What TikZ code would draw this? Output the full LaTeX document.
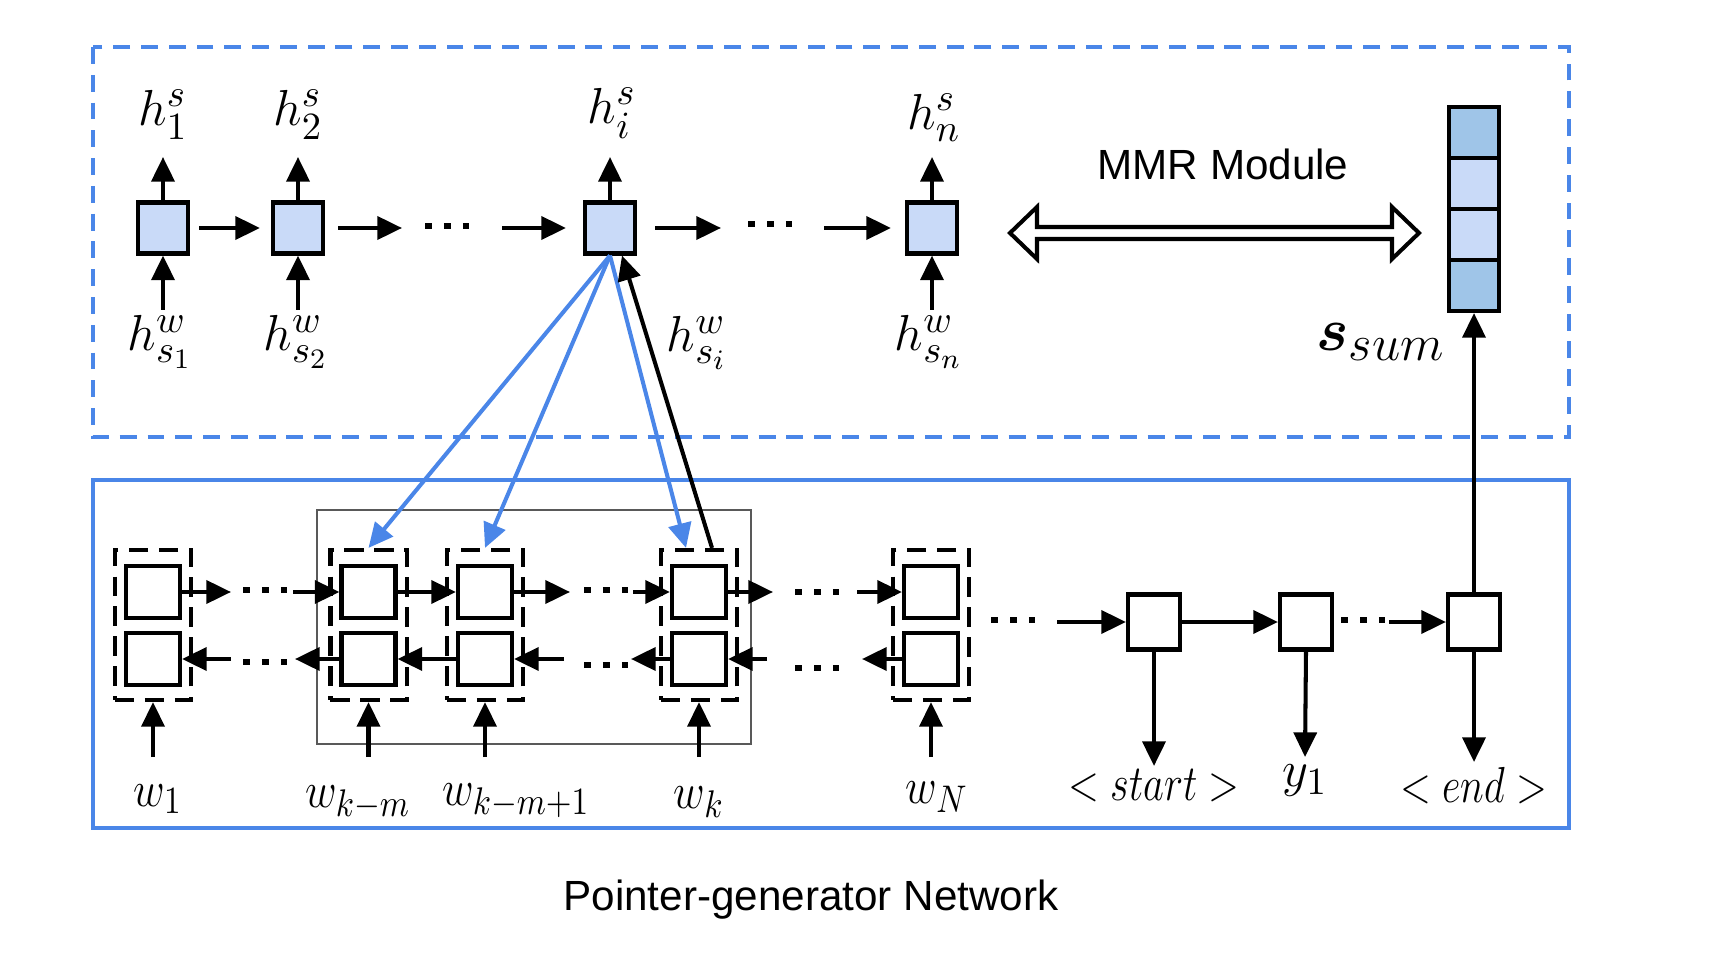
\documentclass[tikz,border=0pt]{standalone}
\usepackage{amsmath}
\usepackage{graphicx}
\usepackage{fontspec}
\newfontfamily\arialf{Liberation Sans}
\usetikzlibrary{arrows.meta,calc}
\definecolor{gblue}{HTML}{4A86E8}
\definecolor{cellblue}{HTML}{C9DAF8}
\definecolor{darkcell}{HTML}{9FC5E8}
\definecolor{framegray}{HTML}{595959}
\newcommand{\narrow}[1]{\scalebox{0.86}[1]{#1}}
\tikzset{
  arr/.style={line width=1.15pt,-{Triangle[length=7pt,width=6.5pt]}},
  barr/.style={gblue,line width=1.15pt,-{Triangle[length=7pt,width=6.5pt]}},
  hcell/.style={draw,line width=1.15pt,fill=cellblue,minimum width=0.5cm,minimum height=0.51cm,inner sep=0},
  stackcell/.style={draw,line width=1.15pt,minimum width=0.5cm,minimum height=0.51cm,inner sep=0},
  encsq/.style={draw,line width=1.15pt,fill=white,minimum width=0.54cm,minimum height=0.52cm,inner sep=0},
  encbox/.style={draw,line width=1.15pt,dash pattern=on 5.5pt off 3pt,minimum width=0.76cm,minimum height=1.5cm,inner sep=0},
  deccell/.style={draw,line width=1.15pt,fill=white,minimum width=0.52cm,minimum height=0.55cm,inner sep=0},
  dotline/.style={line width=1.9pt,dash pattern=on 1.9pt off 3.5pt},
  lbl/.style={inner sep=0,font=\fontsize{15.2}{18}\selectfont},
  sanslbl/.style={inner sep=0,font=\arialf\fontsize{12}{14}\selectfont}
}
\begin{document}
\begin{tikzpicture}[x=0.01cm,y=-0.01cm]
\useasboundingbox (0,0) rectangle (1712,958);
% frames
\draw[gblue,line width=1.2pt,dash pattern=on 4.8pt off 3.1pt] (93,47) rectangle (1569,437);
\draw[gblue,line width=1.2pt] (93,480) rectangle (1569,828);
\draw[framegray,line width=0.75pt] (317,510) rectangle (751,744);

% ---------- top sentence-level row ----------
\node[hcell] (h1) at (163,228) {};
\node[hcell] (h2) at (298,228) {};
\node[hcell] (hi) at (610,228) {};
\node[hcell] (hn) at (932,228) {};
\node[lbl] (ls1) at (163,115) {$h^s_1$};
\node[lbl] (ls2) at (298,115) {$h^s_2$};
\node[lbl] (lsi) at (612,113) {$h^s_i$};
\node[lbl] (lsn) at (934,118) {$h^s_n$};
\node[lbl] (lw1) at (160,342) {$h^w_{s_1}$};
\node[lbl] (lw2) at (296,342) {$h^w_{s_2}$};
\node[lbl] (lwi) at (697,343) {$h^w_{s_i}$};
\node[lbl] (lwn) at (929,342) {$h^w_{s_n}$};
\foreach \n/\x in {h1/163,h2/298,hi/610,hn/932}{
  \coordinate (up\n) at (\x,157);
  \draw[arr] (\n.north) -- (up\n);
}
\foreach \n/\x in {h1/163,h2/298,hn/932}{
  \coordinate (dn\n) at (\x,310);
  \draw[arr] (dn\n) -- (\n.south);
}
\draw[arr,shorten <=0.09cm,shorten >=0.11cm] (h1.east) -- (h2.west);
\coordinate (t1) at (402,228);
\draw[arr,shorten <=0.13cm] (h2.east) -- (t1);
\draw[dotline] (425,226) -- (469,226);
\coordinate (t2) at (502,228);
\draw[arr,shorten >=0.17cm] (t2) -- (hi.west);
\coordinate (t3) at (721,228);
\draw[arr,shorten <=0.18cm] (hi.east) -- (t3);
\draw[dotline] (748,224) -- (792,224);
\coordinate (t4) at (824,228);
\draw[arr,shorten >=0.14cm] (t4) -- (hn.west);

% MMR double arrow
\draw[line width=1.15pt,fill=white,line join=miter]
  (1010,233) -- (1037,207) -- (1037,227) -- (1392,227) -- (1392,207) -- (1419,233)
  -- (1392,259) -- (1392,239) -- (1037,239) -- (1037,259) -- cycle;
\node[sanslbl] (mmr) at (1223,164) {MMR Module};

% summary stack
\node[stackcell,fill=darkcell] (s1) at (1474,132.5) {};
\node[stackcell,fill=cellblue] (s2) at (1474,183.5) {};
\node[stackcell,fill=cellblue] (s3) at (1474,234.5) {};
\node[stackcell,fill=darkcell] (s4) at (1474,285.5) {};
\node[inner sep=0,font=\fontsize{19}{21}\selectfont] (ssum) at (1381,342) {$\boldsymbol{s}_{sum}$};

% ---------- encoder ----------
\foreach \n/\x in {e1/153,ekm/368.5,ekmo/485,ek/699,eN/931}{
  \node[encbox] (\n) at (\x,625) {};
  \node[encsq] (\n t) at (\x,592) {};
  \node[encsq] (\n b) at (\x,659) {};
  \coordinate (in\n) at (\x,757);
  \draw[arr] (in\n) -- (\n.south);
}
\node[lbl] (w1) at (158,799) {\narrow{$w_1$}};
\node[lbl] (wkm) at (358,803) {\narrow{$w_{k-m}$}};
\node[lbl] (wkmo) at (516,801) {\narrow{$w_{k-m+1}$}};
\node[lbl] (wk) at (699,802) {\narrow{$w_k$}};
\node[lbl] (wN) at (937,797) {\narrow{$w_N$}};

% forward row
\coordinate (f1) at (231,592);
\draw[arr] (e1t.east) -- (f1);
\draw[dotline] (243,590) -- (287,590);
\coordinate (f2) at (293,592);
\draw[arr] (f2) -- (ekmt.west);
\draw[arr] (ekmt.east) -- (ekmot.west);
\coordinate (f3) at (570,592);
\draw[arr] (ekmot.east) -- (f3);
\draw[dotline] (584,590) -- (628,590);
\coordinate (f4) at (633,592);
\draw[arr] (f4) -- (ekt.west);
\coordinate (f5) at (773,592);
\draw[arr] (ekt.east) -- (f5);
\draw[dotline] (795,592) -- (839,592);
\coordinate (f6) at (857,592);
\draw[arr] (f6) -- (eNt.west);

% backward row
\coordinate (g1) at (231,659);
\draw[arr] (g1) -- (e1b.east);
\draw[dotline] (243,662) -- (287,662);
\coordinate (g2) at (295,659);
\draw[arr] (ekmb.west) -- (g2);
\draw[arr] (ekmob.west) -- (ekmb.east);
\coordinate (g3) at (564,659);
\draw[arr] (g3) -- (ekmob.east);
\draw[dotline] (584,665) -- (628,665);
\coordinate (g4) at (631,659);
\draw[arr] (ekb.west) -- (g4);
\coordinate (g5) at (767,659);
\draw[arr] (g5) -- (ekb.east);
\draw[dotline] (795,668) -- (839,668);
\coordinate (g6) at (862,659);
\draw[arr] (eNb.west) -- (g6);

% ---------- decoder ----------
\node[deccell] (ds) at (1154,622) {};
\node[deccell] (dy) at (1306,622) {};
\node[deccell] (de) at (1474,622) {};
\draw[dotline] (991,620) -- (1035,620);
\coordinate (d0) at (1057,622);
\draw[arr] (d0) -- (ds.west);
\draw[arr] (ds.east) -- (dy.west);
\draw[dotline] (1341,620) -- (1385,620);
\coordinate (d1) at (1389,622);
\draw[arr] (d1) -- (de.west);
\coordinate (o1) at (1154,766);
\coordinate (o2) at (1305,757);
\coordinate (o3) at (1474,762);
\draw[arr] (ds.south) -- (o1);
\draw[arr] (dy.south) -- (o2);
\draw[arr] (de.south) -- (o3);
\node[lbl] (lstart) at (1154,786) {\scalebox{0.8}[1]{$<start>$}};
\node[lbl] (ly1) at (1305,781) {$y_1$};
\node[lbl] (lend) at (1474,786) {\scalebox{0.8}[1]{$<end>$}};
\draw[arr] (de.north) -- (s4.south);

% ---------- attention connections ----------
\draw[barr] (hi.south) -- (ekm.north);
\draw[barr] (hi.south) -- (ekmo.north);
\draw[barr] (hi.south) -- ($(ek.north)+(-13,0)$);
\draw[arr] ($(ek.north)+(13,0)$) -- ($(hi.south)+(12,0)$);

% caption
\node[sanslbl] (cap) at (811,900) {Pointer-generator Network};
\end{tikzpicture}
\end{document}
